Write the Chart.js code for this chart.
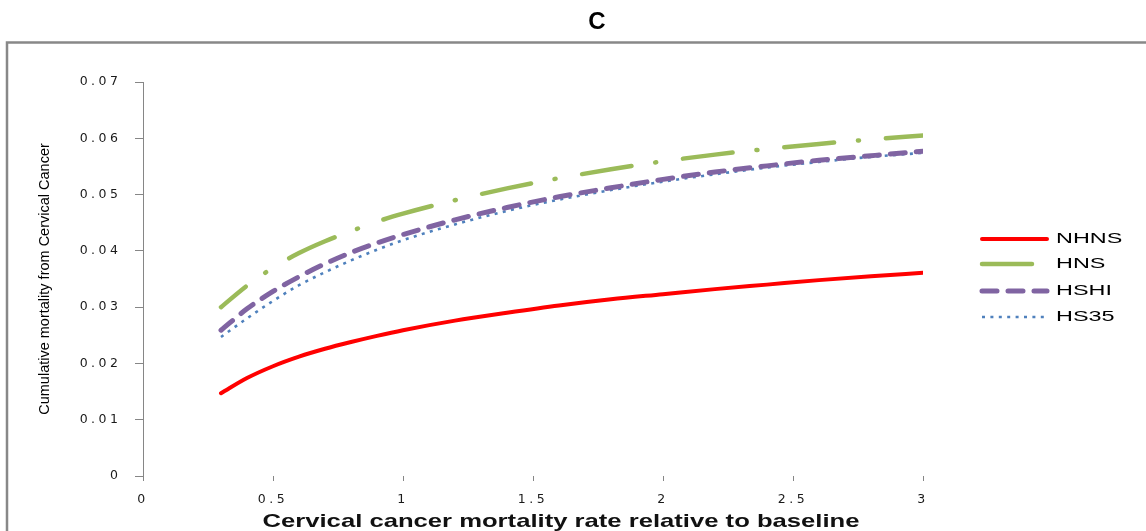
<!DOCTYPE html>
<html>
<head>
<meta charset="utf-8">
<script src="https://cdn.jsdelivr.net/npm/chart.js@4.4.1/dist/chart.umd.min.js"></script>
<style>
  html, body { margin: 0; padding: 0; background: #ffffff; overflow: hidden; }
  #wrap { position: relative; width: 1146px; height: 531px; }
</style>
</head>
<body>
<div id="wrap"><canvas id="chart" width="1146" height="531"></canvas></div>
<script>
// Mortality rate multiplier (x) and cumulative cervical cancer mortality per scenario
const relativeRate = [0.3, 0.4, 0.5, 0.6, 0.7, 0.8, 0.9, 1.0, 1.2, 1.4, 1.6, 1.8, 2.0, 2.2, 2.4, 2.6, 2.8, 3.0];
const nhns = [0.0147, 0.0174, 0.0195, 0.0212, 0.0226, 0.0238, 0.0249, 0.0259, 0.0276, 0.0290, 0.0303, 0.0314, 0.0323, 0.0332, 0.0340, 0.0348, 0.0355, 0.0361];
const hns  = [0.0300, 0.0338, 0.0370, 0.0396, 0.0417, 0.0435, 0.0452, 0.0466, 0.0490, 0.0511, 0.0529, 0.0545, 0.0559, 0.0571, 0.0581, 0.0590, 0.0598, 0.0605];
const hshi = [0.0259, 0.0297, 0.0328, 0.0354, 0.0377, 0.0397, 0.0414, 0.0429, 0.0455, 0.0477, 0.0496, 0.0512, 0.0527, 0.0540, 0.0551, 0.0561, 0.0569, 0.0577];
const hs35 = [0.0247, 0.0280, 0.0311, 0.0339, 0.0362, 0.0383, 0.0402, 0.0419, 0.0447, 0.0471, 0.0491, 0.0508, 0.0523, 0.0536, 0.0548, 0.0558, 0.0567, 0.0574];

const seriesNames = ['NHNS', 'HNS', 'HSHI', 'HS35'];
const xTickLabels = ['0', '0.5', '1', '1.5', '2', '2.5', '3'];
const yTickLabels = ['0', '0.01', '0.02', '0.03', '0.04', '0.05', '0.06', '0.07'];
const chartTitle = 'C';
const xAxisTitle = 'Cervical cancer mortality rate relative to baseline';
const yAxisTitle = 'Cumulative mortality from Cervical Cancer';

const toPoints = (ys) => ys.map((y, i) => ({ x: relativeRate[i], y }));

const seriesStyles = [
  { borderColor: '#FF0000', borderWidth: 4, borderDash: [], borderCapStyle: 'round' },
  { borderColor: '#9BBB59', borderWidth: 4.5, borderDash: [50, 24, 1, 27], borderDashOffset: 18, borderCapStyle: 'round' },
  { borderColor: '#8064A2', borderWidth: 5, borderDash: [15, 11], borderCapStyle: 'round' },
  { borderColor: '#4F81BD', borderWidth: 2.6, borderDash: [3, 5.4], borderCapStyle: 'butt' }
];
const seriesValues = [nhns, hns, hshi, hs35];

const datasets = seriesNames.map((name, i) => Object.assign({
  label: name,
  data: toPoints(seriesValues[i]),
  pointRadius: 0,
  pointHoverRadius: 0,
  fill: false,
  cubicInterpolationMode: 'monotone'
}, seriesStyles[i]));

// Outer frame, right-hand legend and the horizontal axis caption
const decorations = {
  id: 'decorations',
  beforeDraw(chart) {
    const ctx = chart.ctx;
    ctx.letterSpacing = '0px';
    ctx.save();
    ctx.strokeStyle = '#888888';
    ctx.lineWidth = 2.5;
    ctx.beginPath();
    ctx.moveTo(7, 540);
    ctx.lineTo(7, 42.5);
    ctx.lineTo(1150, 42.5);
    ctx.stroke();
    ctx.restore();
  },
  afterDatasetsDraw(chart) {
    // tick labels are drawn after the datasets (ticks.z = 1) with wide tracking
    chart.ctx.letterSpacing = '3.5px';
  },
  afterDraw(chart) {
    const ctx = chart.ctx;
    ctx.letterSpacing = '0px';

    // legend
    const legendX = 982, legendLen = 65, textX = 1056;
    const rowY = [239, 264, 291, 317];
    chart.data.datasets.forEach((ds, i) => {
      const y = rowY[i];
      ctx.save();
      ctx.strokeStyle = ds.borderColor;
      ctx.lineWidth = ds.borderWidth;
      ctx.lineCap = ds.borderCapStyle || 'butt';
      ctx.setLineDash(ds.borderDash || []);
      ctx.beginPath();
      ctx.moveTo(legendX, y);
      ctx.lineTo(legendX + legendLen, y);
      ctx.stroke();
      ctx.restore();

      ctx.save();
      ctx.font = '15px "Liberation Sans", Arial, sans-serif';
      ctx.fillStyle = '#000000';
      ctx.textBaseline = 'middle';
      ctx.textAlign = 'left';
      ctx.translate(textX, y);
      ctx.scale(1.56, 1);
      ctx.fillText(ds.label, 0, 0);
      ctx.restore();
    });

    // x axis caption
    ctx.save();
    ctx.font = 'bold 19px "Liberation Sans", Arial, sans-serif';
    ctx.fillStyle = '#111111';
    ctx.textBaseline = 'alphabetic';
    ctx.textAlign = 'center';
    const w = ctx.measureText(xAxisTitle).width;
    ctx.translate(561, 527);
    ctx.scale(597 / w, 1);
    ctx.fillText(xAxisTitle, 0, 0);
    ctx.restore();
  }
};

const axisGray = '#868686';
const tickFont = { family: '"DejaVu Sans", sans-serif', size: 12.5 };

new Chart(document.getElementById('chart'), {
  type: 'line',
  data: { datasets },
  options: {
    responsive: false,
    animation: false,
    devicePixelRatio: 1,
    events: [],
    layout: { padding: { left: 30, right: -18, top: 0, bottom: 0 } },
    plugins: {
      legend: { display: false },
      tooltip: { enabled: false },
      title: {
        display: true,
        text: chartTitle,
        color: '#000000',
        font: { family: '"Liberation Sans", Arial, sans-serif', size: 24, weight: 'bold' },
        padding: { top: 8, bottom: 45.2 }
      }
    },
    scales: {
      x: {
        type: 'linear',
        min: 0,
        max: 3,
        border: { display: false },
        grid: { display: true, drawOnChartArea: false, drawTicks: true, tickLength: 5, color: axisGray, lineWidth: 1 },
        ticks: {
          stepSize: 0.5,
          z: 1,
          padding: 11,
          color: '#1a1a1a',
          font: tickFont,
          maxRotation: 0,
          autoSkip: false,
          callback: (v, i) => xTickLabels[i]
        },
        afterFit(scale) { scale.height = 55; }
      },
      y: {
        type: 'linear',
        min: 0,
        max: 0.07,
        border: { display: true, color: axisGray, width: 1 },
        grid: { display: true, drawOnChartArea: false, drawTicks: true, tickLength: 8, color: axisGray, lineWidth: 1 },
        ticks: {
          stepSize: 0.01,
          z: 1,
          padding: 13.5,
          color: '#1a1a1a',
          font: tickFont,
          callback: (v, i) => yTickLabels[i]
        },
        title: {
          display: true,
          text: yAxisTitle,
          color: '#000000',
          font: { family: '"Liberation Sans", Arial, sans-serif', size: 14.5 },
          padding: { top: 6.3, bottom: 0 }
        },
        afterFit(scale) { scale.width = 113; }
      },
      legendSpace: {
        type: 'linear',
        position: 'right',
        display: true,
        border: { display: false },
        grid: { display: false },
        ticks: { display: false },
        afterFit(scale) { scale.width = 241; }
      }
    }
  },
  plugins: [decorations]
});
</script>
</body>
</html>
